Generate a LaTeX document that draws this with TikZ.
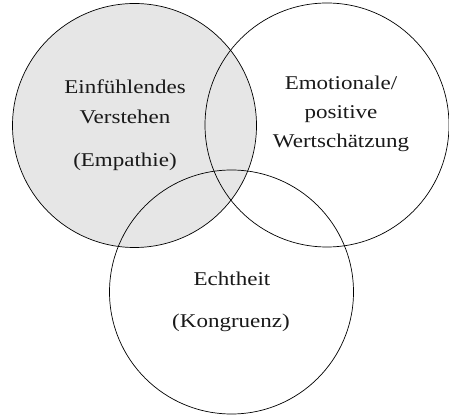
\documentclass[tikz,border=0pt]{standalone}
\usepackage{fontspec}
\setmainfont{Liberation Serif}
\usepackage{graphicx}
\newcommand{\sx}[1]{\scalebox{1.18}[1]{#1}}
\begin{document}
\begin{tikzpicture}[x=1pt,y=1pt,
  ring/.style={circle, draw=black, line width=0.7pt, inner sep=0pt, minimum size=244pt},
  lbl/.style={anchor=base, inner sep=0pt, font=\fontsize{19.5}{22}\selectfont, text=black!90}]
\useasboundingbox (0,0) rectangle (449,415);
\node[ring, fill={rgb,255:red,230;green,230;blue,230}, draw=none] (Lf) at (134.5,289.5) {};
\node[ring] (L) at (134.5,289.5) {};
\node[ring] (R) at (327,290) {};
\node[ring] (B) at (231.5,123) {};
\node[lbl] (l1) at (125,321.7) {\sx{Einfühlendes}};
\node[lbl] (l2) at (125,291.7) {\sx{Verstehen}};
\node[lbl] (l3) at (125,248) {\sx{(Empathie)}};
\node[lbl] (r1) at (341,325.7) {\sx{Emotionale/}};
\node[lbl] (r2) at (341,296.7) {\sx{positive}};
\node[lbl] (r3) at (341,267.3) {\sx{Wertschätzung}};
\node[lbl] (b1) at (232,130) {\sx{Echtheit}};
\node[lbl] (b2) at (231,88) {\sx{(Kongruenz)}};
\end{tikzpicture}
\end{document}
